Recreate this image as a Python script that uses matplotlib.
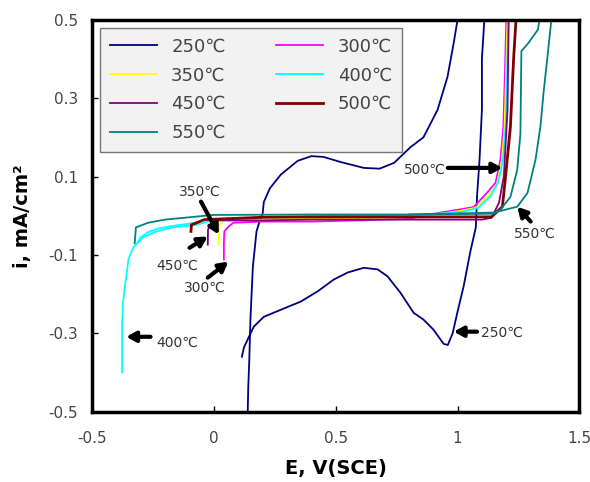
import matplotlib
matplotlib.use("Agg")
import matplotlib.pyplot as plt

plt.rcParams['font.family'] = ['DejaVu Sans', 'Noto Sans CJK KR']

# 250C : forward scan (bottom -> loop top) and reverse scan
e_250_fwd = [0.139, 0.141, 0.145, 0.150, 0.160, 0.175, 0.190, 0.200, 0.205, 0.230, 0.275, 0.344, 0.400,
             0.450, 0.520, 0.615, 0.680, 0.740, 0.807, 0.860, 0.918, 0.959, 0.984, 1.000]
i_250_fwd = [-0.50, -0.44, -0.375, -0.265, -0.13, -0.04, -0.01, 0.005, 0.035, 0.07, 0.105, 0.140, 0.152,
             0.150, 0.137, 0.122, 0.120, 0.135, 0.175, 0.200, 0.270, 0.355, 0.440, 0.500]
e_250_rev = [1.110, 1.100, 1.100, 1.090, 1.080, 1.075, 1.053, 1.025, 1.000, 0.980, 0.960, 0.943, 0.900,
             0.860, 0.820, 0.766, 0.713, 0.672, 0.615, 0.549, 0.492, 0.426, 0.357, 0.275, 0.205,
             0.164, 0.143, 0.123, 0.115]
i_250_rev = [0.500, 0.400, 0.270, 0.140, 0.050, -0.030, -0.090, -0.180, -0.245, -0.300, -0.330, -0.327, -0.290,
             -0.265, -0.248, -0.197, -0.155, -0.137, -0.133, -0.145, -0.163, -0.193, -0.219, -0.240, -0.258,
             -0.283, -0.310, -0.337, -0.360]

e_300 = [0.041, 0.041, 0.043, 0.060, 0.080, 0.200, 0.400, 0.600, 0.800, 0.930, 1.000, 1.066, 1.120, 1.156,
         1.176, 1.188, 1.194, 1.200]
i_300 = [-0.112, -0.070, -0.040, -0.028, -0.018, -0.015, -0.015, -0.012, -0.008, 0.008, 0.015, 0.022, 0.058,
         0.084, 0.143, 0.227, 0.355, 0.500]

e_350 = [0.020, 0.020, 0.024, 0.040, 0.200, 0.400, 0.600, 0.800, 0.940, 1.010, 1.075, 1.128, 1.162,
         1.182, 1.193, 1.199, 1.205]
i_350 = [-0.074, -0.040, -0.023, -0.012, -0.010, -0.008, -0.006, -0.004, 0.006, 0.012, 0.020, 0.052,
         0.080, 0.140, 0.225, 0.355, 0.500]

e_400 = [-0.377, -0.377, -0.373, -0.365, -0.350, -0.330, -0.290, -0.235, -0.170, -0.070, 0.000, 0.200,
         0.400, 0.600, 0.800, 0.950, 1.020, 1.085, 1.135, 1.167, 1.186, 1.197, 1.203, 1.208]
i_400 = [-0.400, -0.280, -0.220, -0.180, -0.110, -0.080, -0.055, -0.040, -0.030, -0.023, -0.010, -0.004,
         -0.002, 0.000, 0.002, 0.006, 0.010, 0.020, 0.050, 0.085, 0.140, 0.225, 0.355, 0.500]
e_400_b = [-0.315, -0.300, -0.270, -0.230, -0.180, -0.120, -0.050]
i_400_b = [-0.070, -0.055, -0.042, -0.033, -0.027, -0.022, -0.015]

e_450 = [-0.025, -0.024, -0.012, 0.000, 0.200, 0.400, 0.600, 0.800, 1.000, 1.100, 1.140, 1.170, 1.190,
         1.205, 1.210]
i_450 = [-0.074, -0.035, -0.023, -0.012, -0.012, -0.010, -0.010, -0.010, -0.010, -0.010, -0.005, 0.033,
         0.100, 0.270, 0.500]

e_500 = [-0.094, -0.092, -0.070, -0.040, 0.200, 0.400, 0.600, 0.800, 1.000, 1.100, 1.140, 1.184, 1.197,
         1.217, 1.230, 1.240]
i_500 = [-0.040, -0.023, -0.018, -0.010, -0.004, -0.003, -0.003, -0.003, -0.003, -0.003, -0.003, 0.023,
         0.100, 0.227, 0.400, 0.500]

e_550 = [-0.325, -0.320, -0.270, -0.200, -0.100, 0.000, 0.400, 0.800, 1.150, 1.176, 1.217, 1.245, 1.258,
         1.262, 1.290, 1.330, 1.336]
i_550 = [-0.070, -0.030, -0.018, -0.010, -0.004, 0.002, 0.003, 0.003, 0.005, 0.015, 0.048, 0.117, 0.210,
         0.420, 0.440, 0.475, 0.500]
e_550_b = [0.800, 1.150, 1.245, 1.287, 1.320, 1.340, 1.353, 1.368, 1.385]
i_550_b = [0.003, 0.008, 0.023, 0.058, 0.143, 0.227, 0.314, 0.400, 0.500]

labels = ['250℃', '300℃', '350℃', '400℃', '450℃', '500℃', '550℃']
colors = ['#000080', '#ff00ff', '#ffff00', '#00ffff', '#800080', '#800000', '#008080']

# annotations: text, text position, arrow tail, arrow head
notes = [
    ('350℃', (-0.057, 0.061), (-0.053, 0.036), (0.020, -0.048)),
    ('450℃', (-0.150, -0.127), (-0.100, -0.082), (-0.025, -0.053)),
    ('300℃', (-0.037, -0.184), (-0.025, -0.158), (0.060, -0.117)),
    ('400℃', (-0.150, -0.324), (-0.260, -0.309), (-0.360, -0.309)),
    ('500℃', (0.865, 0.117), (0.960, 0.122), (1.184, 0.122)),
    ('550℃', (1.316, -0.046), (1.300, -0.015), (1.245, 0.023)),
    ('250℃', (1.184, -0.300), (1.080, -0.296), (0.984, -0.296)),
]

fig = plt.figure(figsize=(5.9, 4.82), dpi=100)
ax = fig.add_axes([0.156, 0.146, 0.826, 0.813])

lw = 1.3
h250, = ax.plot(e_250_fwd, i_250_fwd, color=colors[0], lw=lw)
ax.plot(e_250_rev, i_250_rev, color=colors[0], lw=lw)
h300, = ax.plot(e_300, i_300, color=colors[1], lw=lw)
h350, = ax.plot(e_350, i_350, color=colors[2], lw=lw)
h400, = ax.plot(e_400, i_400, color=colors[3], lw=lw)
ax.plot(e_400_b, i_400_b, color=colors[3], lw=lw)
h450, = ax.plot(e_450, i_450, color=colors[4], lw=lw)
h500, = ax.plot(e_500, i_500, color=colors[5], lw=2.0)
h550, = ax.plot(e_550, i_550, color=colors[6], lw=lw)
ax.plot(e_550_b, i_550_b, color=colors[6], lw=lw)

for txt, tpos, tail, head in notes:
    ax.text(tpos[0], tpos[1], txt, fontsize=10, color='#333333', ha='center', va='center')
    ax.annotate('', xy=head, xytext=tail,
                arrowprops=dict(arrowstyle='-|>,head_length=0.55,head_width=0.3', color='black', lw=3,
                                shrinkA=0, shrinkB=0))

ax.set_xlim(-0.5, 1.5)
ax.set_ylim(-0.5, 0.5)
ax.set_xticks([-0.5, 0, 0.5, 1, 1.5])
ax.set_xticklabels(['-0.5', '0', '0.5', '1', '1.5'])
ax.set_yticks([-0.5, -0.3, -0.1, 0.1, 0.3, 0.5])
ax.set_yticklabels(['-0.5', '-0.3', '-0.1', '0.1', '0.3', '0.5'])
ax.tick_params(direction='in', length=4, width=1, labelsize=11, labelcolor='#444444')
ax.tick_params(axis='x', pad=14)
ax.tick_params(axis='y', pad=10)
for s in ax.spines.values():
    s.set_linewidth(2.5)

ax.set_xlabel('E, V(SCE)', fontsize=14, fontweight='bold', labelpad=9)
ax.set_ylabel('i, mA/cm²', fontsize=14, fontweight='bold', labelpad=12)

hs = [h250, h350, h450, h550, h300, h400, h500]
ls = [labels[0], labels[2], labels[4], labels[6], labels[1], labels[3], labels[5]]
leg = ax.legend(hs, ls, ncol=2, loc='upper left', bbox_to_anchor=(0.016, 0.98),
                fontsize=13, handlelength=2.6, labelspacing=0.6, columnspacing=2.8,
                borderpad=0.55, fancybox=False, framealpha=1, borderaxespad=0)
leg.get_frame().set_facecolor('#f2f2f2')
leg.get_frame().set_edgecolor('#777777')
for t in leg.get_texts():
    t.set_color('#444444')

fig.savefig('out.png', dpi=100)
